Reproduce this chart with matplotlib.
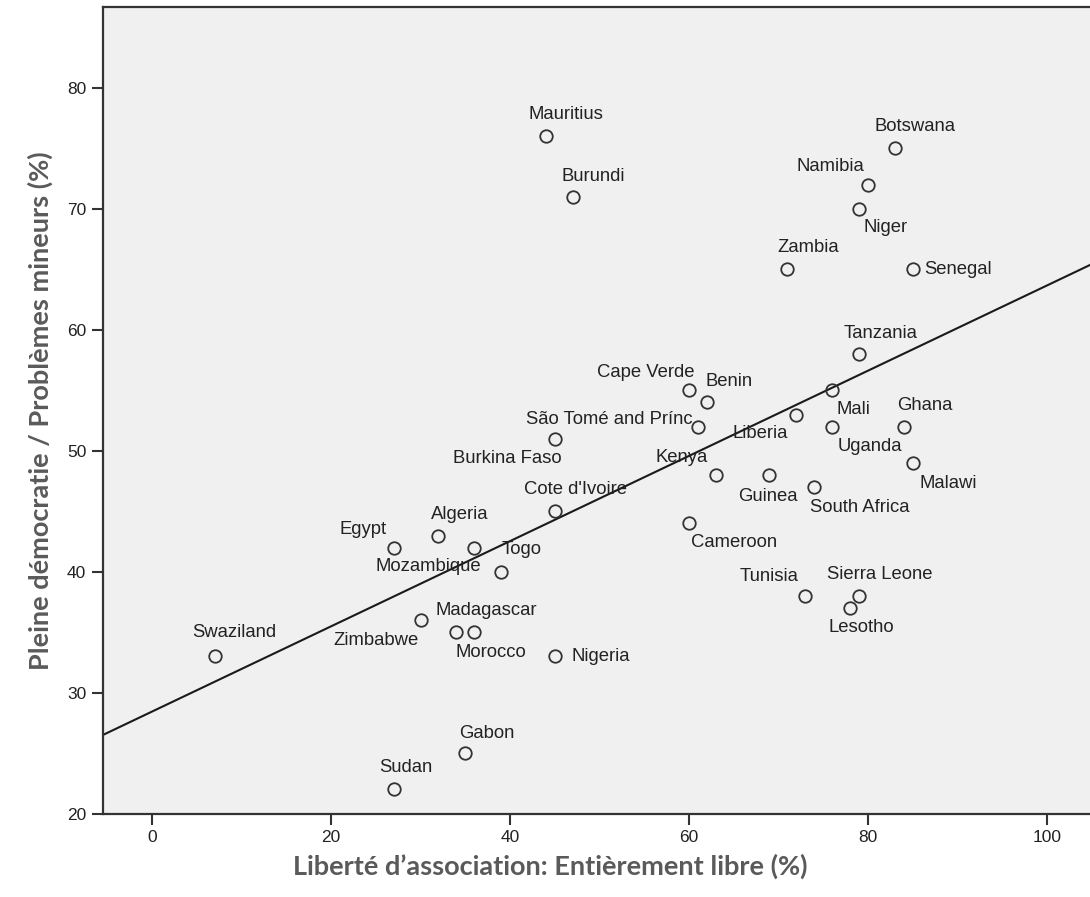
"""Scatter of association freedom vs. democracy ratings (Afrobarometer-style)."""

import numpy as np
import matplotlib.pyplot as plt

countries = [
    "Mauritius", "Burundi", "Botswana", "Namibia", "Niger", "Zambia",
    "Senegal", "Tanzania", "Mali", "Liberia", "Uganda", "Ghana", "Malawi",
    "Kenya", "Guinea", "South Africa", "Cameroon", "Cape Verde", "Benin",
    "São Tomé and Prínc", "Burkina Faso", "Cote d'Ivoire", "Egypt",
    "Algeria", "Mozambique", "Togo", "Zimbabwe", "Madagascar", "Morocco",
    "Swaziland", "Nigeria", "Gabon", "Sudan", "Tunisia", "Sierra Leone",
    "Lesotho",
]
freedom = [44, 47, 83, 80, 79, 71, 85, 79, 76, 72, 76, 84, 85, 63, 69, 74,
           60, 60, 62, 61, 45, 45, 27, 32, 36, 39, 30, 34, 36, 7, 45, 35,
           27, 73, 79, 78]
democracy = [76, 71, 75, 72, 70, 65, 65, 58, 55, 53, 52, 52, 49, 48, 48, 47,
             44, 55, 54, 52, 51, 45, 42, 43, 42, 40, 36, 35, 35, 33, 33, 25,
             22, 38, 38, 37]

# label offsets from the marker in pixels (dx right, dy up) and alignment
label_pos = {
    "Mauritius": (20, 22, "center"), "Burundi": (21, 20, "center"),
    "Botswana": (20, 22, "center"), "Namibia": (-38, 18, "center"),
    "Niger": (27, -19, "center"), "Zambia": (21, 22, "center"),
    "Senegal": (12, 0, "left"), "Tanzania": (22, 21, "center"),
    "Mali": (21, -19, "center"), "Liberia": (-36, -19, "center"),
    "Uganda": (38, -20, "center"), "Ghana": (21, 21, "center"),
    "Malawi": (36, -21, "center"), "Kenya": (-34, 18, "center"),
    "Guinea": (-2, -21, "center"), "South Africa": (46, -20, "center"),
    "Cameroon": (45, -19, "center"), "Cape Verde": (-43, 18, "center"),
    "Benin": (22, 21, "center"), "São Tomé and Prínc": (-5, 7, "right"),
    "Burkina Faso": (-47, -20, "center"), "Cote d'Ivoire": (21, 22, "center"),
    "Egypt": (-31, 18, "center"), "Algeria": (21, 21, "center"),
    "Mozambique": (-46, -19, "center"), "Togo": (21, 22, "center"),
    "Zimbabwe": (-45, -20, "center"), "Madagascar": (30, 22, "center"),
    "Morocco": (17, -20, "center"), "Swaziland": (19, 24, "center"),
    "Nigeria": (17, 0, "left"), "Gabon": (22, 20, "center"),
    "Sudan": (12, 22, "center"), "Tunisia": (-36, 19, "center"),
    "Sierra Leone": (21, 21, "center"), "Lesotho": (11, -19, "center"),
}

x = np.array(freedom, dtype=float)
y = np.array(democracy, dtype=float)
slope, intercept = np.polyfit(x, y, 1)

fig = plt.figure(figsize=(10.9, 8.97), dpi=100)
ax = fig.add_axes([0.0945, 0.0929, 0.911, 0.8993])
ax.set_facecolor("#f0f0f0")

x_line = np.array([-5.5, 105.5])
ax.plot(x_line, slope * x_line + intercept, color="#1a1a1a", linewidth=1.5, zorder=2)
ax.plot(x, y, linestyle="none", marker="o", markersize=9, markerfacecolor="none",
        markeredgecolor="#333333", markeredgewidth=1.3, zorder=3)

px = 0.72  # points per pixel at 100 dpi
for name, xi, yi in zip(countries, freedom, democracy):
    dx, dy, ha = label_pos[name]
    ax.annotate(name, (xi, yi), xytext=(dx * px, dy * px), textcoords="offset points",
                ha=ha, va="center", fontsize=13.3, family="Liberation Sans",
                color="#222222", zorder=4)

ax.set_xlim(-5.5, 105.5)
ax.set_ylim(20, 86.7)
ax.set_xticks([0, 20, 40, 60, 80, 100])
ax.set_yticks([20, 30, 40, 50, 60, 70, 80])
ax.tick_params(axis="both", direction="out", length=8, width=1.5, color="#333333",
               labelsize=12.5, labelcolor="#222222", pad=4)
for lbl in ax.get_xticklabels() + ax.get_yticklabels():
    lbl.set_family("Liberation Sans")
for side in ["left", "bottom", "top", "right"]:
    ax.spines[side].set_color("#333333")
    ax.spines[side].set_linewidth(1.6)

ax.set_xlabel("Liberté d’association: Entièrement libre (%)", fontsize=19.5,
              fontweight="bold", color="#5a5a5a", family="Lato")
ax.set_ylabel("Pleine démocratie / Problèmes mineurs (%)", fontsize=19.5,
              fontweight="bold", color="#5a5a5a", family="Lato")
ax.xaxis.set_label_coords(0.45, -0.049)
ax.yaxis.set_label_coords(-0.050, 0.5)

fig.savefig("out.png", dpi=100)
